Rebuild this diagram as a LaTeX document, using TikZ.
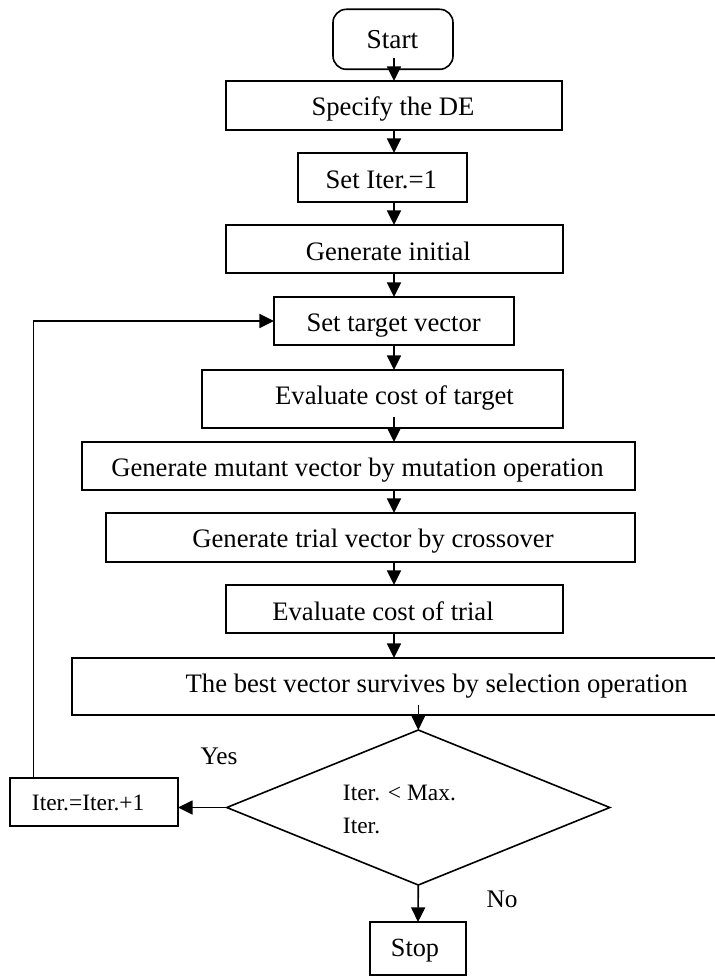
\documentclass[tikz,border=0pt]{standalone}
\usepackage{fontspec}
\setmainfont{Liberation Serif}
\usetikzlibrary{shapes.geometric,arrows.meta,calc}
\begin{document}
\begin{tikzpicture}[x=0.75pt,y=-0.75pt,
  box/.style={draw, line width=1.2pt, inner sep=0pt, outer sep=0pt},
  lbl/.style={inner sep=0pt, anchor=base, font=\fontsize{20}{24}\selectfont},
  small/.style={inner sep=0pt, anchor=base, font=\fontsize{17.6}{21}\selectfont},
  answer/.style={inner sep=0pt, anchor=base, font=\fontsize{19}{23}\selectfont},
  flow/.style={line width=1.2pt, -{Triangle[length=11pt,width=10.5pt]}},
]
\useasboundingbox (0,0) rectangle (714,977);
\fill[white] (0,0) rectangle (714,977);

% reference columns for the connectors
\coordinate (ax) at (394,0);
\coordinate (bx) at (418.3,0);
\coordinate (lx) at (33.3,0);

% process boxes
\node[box, rounded corners=10pt, minimum width=120*0.75pt, minimum height=60*0.75pt] (start) at (393,39.3) {};
\node[box, minimum width=336*0.75pt, minimum height=49*0.75pt] (spec)   at (394,105.5) {};
\node[box, minimum width=169*0.75pt, minimum height=49*0.75pt] (iter1)  at (382.5,177.5) {};
\node[box, minimum width=337*0.75pt, minimum height=48*0.75pt] (init)   at (394.5,249) {};
\node[box, minimum width=240*0.75pt, minimum height=48*0.75pt] (target) at (394,321) {};
\node[box, minimum width=361*0.75pt, minimum height=58*0.75pt] (evtar)  at (382.5,399) {};
\node[box, minimum width=553*0.75pt, minimum height=48*0.75pt] (mutant) at (358.5,466) {};
\node[box, minimum width=529*0.75pt, minimum height=49*0.75pt] (trial)  at (370.5,537.5) {};
\node[box, minimum width=337*0.75pt, minimum height=48*0.75pt] (evtri)  at (394.5,609) {};
\node[box, minimum width=648*0.75pt, minimum height=57*0.75pt] (best)   at (396,686.5) {};
\node[box, diamond, minimum width=383*0.75pt, minimum height=155*0.75pt] (decide) at (418.3,807.5) {};
\node[box, minimum width=168*0.75pt, minimum height=48*0.75pt] (incr)   at (94,802) {};
\node[box, minimum width=96*0.75pt, minimum height=53*0.75pt]  (stop)   at (418,948.5) {};

% box texts
\node[lbl, font=\fontsize{20.5}{24}\selectfont] (t-start) at (392.5,49) {Start};
\node[lbl] (t-spec)   at (393,116)   {Specify the DE};
\node[lbl] (t-iter1)  at (381.3,188.3) {Set Iter.=1};
\node[lbl] (t-init)   at (388.3,260) {Generate initial};
\node[lbl] (t-target) at (393.7,331.7) {Set target vector};
\node[lbl] (t-evtar)  at (394.5,404) {Evaluate cost of target};
\node[lbl] (t-mutant) at (357.5,476) {Generate mutant vector by mutation operation};
\node[lbl] (t-trial)  at (373,547)   {Generate trial vector by crossover};
\node[lbl] (t-evtri)  at (383,620)   {Evaluate cost of trial};
\node[lbl] (t-best)   at (436.7,692.5) {The best vector survives by selection operation};
\node[small] (t-incr) at (88.2,810)  {Iter.=Iter.+1};
\node[small, anchor=base west] (t-cond1) at (342.7,800.5) {Iter. < Max.};
\node[small, anchor=base west] (t-cond2) at (342.7,833)   {Iter.};
\node[answer, font=\fontsize{19.7}{23}\selectfont] (t-stop) at (415,956) {Stop};

% branch labels
\node[answer] (yes) at (219,764)   {Yes};
\node[answer] (no)  at (502,907.7) {No};

% main flow
\draw[flow] ($(start.south -| ax)+(0,-11)$) -- (spec.north -| ax);
\draw[flow] (spec.south -| ax)   -- (iter1.north -| ax);
\draw[flow] (iter1.south -| ax)  -- (init.north -| ax);
\draw[flow] (init.south -| ax)   -- (target.north -| ax);
\draw[flow] (target.south -| ax) -- (evtar.north -| ax);
\draw[flow] ($(evtar.south -| ax)+(0,-11)$) -- (mutant.north -| ax);
\draw[flow] (mutant.south -| ax) -- (trial.north -| ax);
\draw[flow] (trial.south -| ax)  -- (evtri.north -| ax);
\draw[flow] (evtri.south -| ax)  -- (best.north -| ax);
\draw[flow] ($(best.south -| bx)+(0,-10)$) -- (decide.north);
\draw[flow] (decide.south) -- (stop.north);

% loop back
\draw[flow] (decide.west) -- (incr.east |- decide.west);
\draw[flow] (incr.north -| lx) -- (lx |- target.west) -- (target.west);
\end{tikzpicture}
\end{document}
